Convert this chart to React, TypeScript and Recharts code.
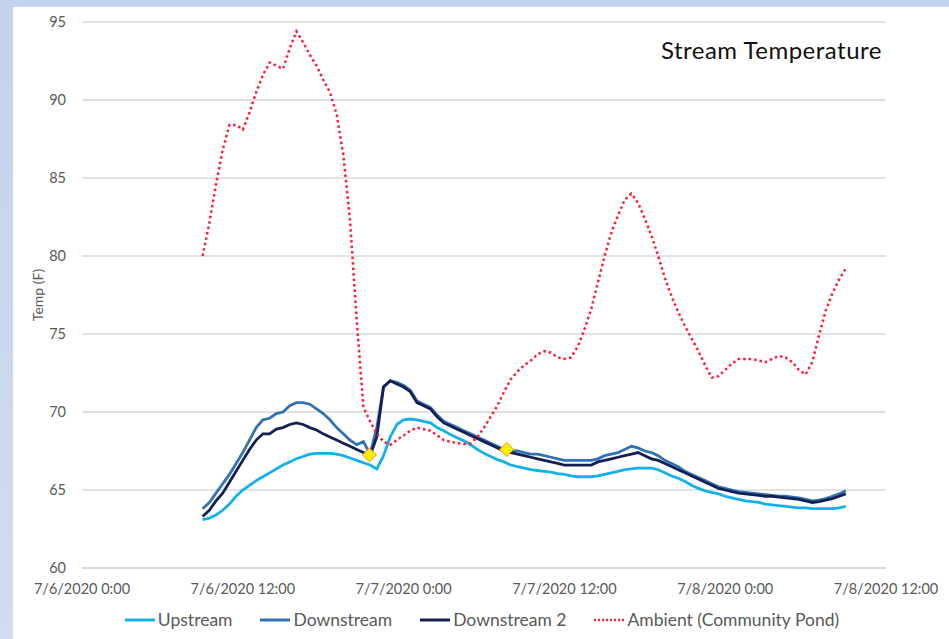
import React from "react";
import { ComposedChart, Line, Scatter, XAxis, YAxis, CartesianGrid, Legend } from "recharts";

// readings every 30 min, starting 7/6/2020 9:00 (hours since 7/6 0:00)
const START_HOUR = 9;
const STEP_HOURS = 0.5;

const UPSTREAM = [
  63.1, 63.2, 63.4, 63.7, 64.1, 64.6, 65.0, 65.3, 65.6, 65.85, 66.1, 66.35, 66.6, 66.8, 67.0, 67.15,
  67.3, 67.35, 67.35, 67.35, 67.3, 67.2, 67.05, 66.9, 66.75, 66.6, 66.35, 67.2, 68.4, 69.2, 69.5, 69.55,
  69.5, 69.4, 69.3, 69.0, 68.8, 68.55, 68.35, 68.15, 67.9, 67.6, 67.35, 67.15, 66.95, 66.8, 66.6, 66.5,
  66.4, 66.3, 66.25, 66.2, 66.15, 66.05, 66.0, 65.9, 65.85, 65.85, 65.85, 65.9, 66.0, 66.1, 66.2, 66.3,
  66.35, 66.4, 66.4, 66.4, 66.3, 66.1, 65.9, 65.75, 65.55, 65.3, 65.1, 64.95, 64.85, 64.75, 64.6, 64.5,
  64.4, 64.3, 64.25, 64.2, 64.1, 64.05, 64.0, 63.95, 63.9, 63.85, 63.85, 63.8, 63.8, 63.8, 63.8, 63.85,
  63.95,
];

const DOWNSTREAM = [
  63.8, 64.2, 64.8, 65.4, 66.0, 66.7, 67.4, 68.2, 69.0, 69.5, 69.6, 69.9, 70.0, 70.4, 70.6, 70.6,
  70.5, 70.2, 69.9, 69.5, 69.0, 68.6, 68.2, 67.9, 68.1, 67.3, 69.0, 71.6, 72.0, 71.9, 71.7, 71.4,
  70.7, 70.5, 70.3, 69.8, 69.4, 69.2, 69.0, 68.8, 68.6, 68.4, 68.2, 68.0, 67.8, 67.6, 67.5, 67.5,
  67.4, 67.3, 67.3, 67.2, 67.1, 67.0, 66.9, 66.9, 66.9, 66.9, 66.9, 67.0, 67.2, 67.3, 67.4, 67.6,
  67.8, 67.7, 67.5, 67.4, 67.2, 66.9, 66.7, 66.5, 66.2, 66.0, 65.8, 65.6, 65.4, 65.2, 65.1, 65.0,
  64.9, 64.85, 64.8, 64.75, 64.7, 64.65, 64.6, 64.6, 64.55, 64.5, 64.4, 64.3, 64.35, 64.45, 64.6, 64.75,
  64.95,
];

const DOWNSTREAM_2 = [
  63.3, 63.7, 64.3, 64.8, 65.5, 66.2, 66.9, 67.6, 68.2, 68.6, 68.6, 68.9, 69.0, 69.2, 69.3, 69.2,
  69.0, 68.85, 68.6, 68.4, 68.2, 68.0, 67.8, 67.6, 67.4, 67.2, 68.4, 71.6, 72.0, 71.8, 71.6, 71.3,
  70.6, 70.4, 70.2, 69.7, 69.3, 69.1, 68.9, 68.7, 68.5, 68.3, 68.1, 67.9, 67.7, 67.5, 67.4, 67.3,
  67.2, 67.1, 67.0, 66.9, 66.8, 66.7, 66.6, 66.6, 66.6, 66.6, 66.6, 66.8, 66.9, 67.0, 67.1, 67.2,
  67.3, 67.4, 67.2, 67.0, 66.9, 66.7, 66.5, 66.3, 66.1, 65.9, 65.7, 65.5, 65.3, 65.1, 65.0, 64.9,
  64.8, 64.75, 64.7, 64.65, 64.6, 64.6, 64.55, 64.5, 64.45, 64.4, 64.3, 64.2, 64.25, 64.35, 64.45, 64.6,
  64.75,
];

const AMBIENT = [
  80.0, 82.1, 84.6, 86.8, 88.4, 88.4, 88.1, 89.2, 90.5, 91.6, 92.4, 92.2, 92.0, 93.3, 94.4, 93.7,
  92.9, 92.2, 91.3, 90.5, 89.1, 86.5, 82.3, 75.9, 70.3, 69.4, 68.6, 68.1, 67.9, 68.2, 68.5, 68.8,
  69.0, 68.9, 68.8, 68.5, 68.2, 68.1, 68.0, 67.95, 68.0, 68.4, 69.0, 69.7, 70.4, 71.3, 72.1, 72.6,
  73.0, 73.3, 73.7, 73.9, 73.8, 73.5, 73.4, 73.5, 74.2, 75.3, 76.6, 78.3, 80.0, 81.5, 82.6, 83.6,
  84.0, 83.4, 82.4, 81.3, 80.0, 78.6, 77.4, 76.4, 75.5, 74.7, 73.9, 73.0, 72.2, 72.3, 72.7, 73.1,
  73.4, 73.4, 73.4, 73.3, 73.2, 73.4, 73.6, 73.5, 73.2, 72.7, 72.4, 73.2, 74.9, 76.5, 77.6, 78.5,
  79.2,
];

// highlighted readings (yellow diamonds)
const MARKER_HOURS = [21.45, 31.7];
const MARKER_TEMPS = [67.25, 67.6];

const X_TICKS = [0, 12, 24, 36, 48, 60];
const X_TICK_LABELS = ["7/6/2020 0:00", "7/6/2020 12:00", "7/7/2020 0:00", "7/7/2020 12:00", "7/8/2020 0:00", "7/8/2020 12:00"];
const Y_TICKS = [60, 65, 70, 75, 80, 85, 90, 95];

const SERIES = [
  { key: "upstream", name: "Upstream", color: "#13b0ee", dotted: false },
  { key: "downstream", name: "Downstream", color: "#2f72b8", dotted: false },
  { key: "downstream2", name: "Downstream 2", color: "#141f54", dotted: false },
  { key: "ambient", name: "Ambient (Community Pond)", color: "#fb1d3a", dotted: true },
];

const FONT = "Lato, 'Open Sans', sans-serif";

const data = UPSTREAM.map((u, i) => ({
  h: START_HOUR + i * STEP_HOURS,
  upstream: u,
  downstream: DOWNSTREAM[i],
  downstream2: DOWNSTREAM_2[i],
  ambient: AMBIENT[i],
}));

const markers = MARKER_HOURS.map((h, i) => ({ h, t: MARKER_TEMPS[i] }));

function Diamond(props: any) {
  const { cx, cy } = props;
  const r = 7;
  return (
    <path
      d={`M${cx},${cy - r}L${cx + r},${cy}L${cx},${cy + r}L${cx - r},${cy}Z`}
      fill="#ffee00"
      stroke="#e8951c"
      strokeWidth={1}
    />
  );
}

function LegendContent() {
  return (
    <div style={{ display: "flex", justifyContent: "center", alignItems: "center", gap: 28, fontFamily: FONT, fontSize: 17.5, color: "#595959", paddingLeft: 78 }}>
      {SERIES.map((s) => (
        <div key={s.key} style={{ display: "flex", alignItems: "center", gap: 3 }}>
          <svg width={30} height={10}>
            <line
              x1={0}
              x2={30}
              y1={5}
              y2={5}
              stroke={s.color}
              strokeWidth={s.dotted ? 2.5 : 3}
              strokeDasharray={s.dotted ? "2 2" : undefined}
            />
          </svg>
          <span>{s.name}</span>
        </div>
      ))}
    </div>
  );
}

export default function App() {
  return (
    <div
      style={{
        position: "absolute",
        left: 0,
        top: 0,
        width: 949,
        height: 639,
        background: "linear-gradient(180deg, #c3d2ed 0%, #d3dcef 100%)",
        overflow: "hidden",
      }}
    >
      <div style={{ position: "absolute", left: 13, top: 7, right: 0, bottom: 0, background: "#fff" }} />
      <div style={{ position: "absolute", left: 0, top: 0 }}>
        <ComposedChart width={949} height={639} data={data} margin={{ top: 22, right: 63, bottom: 6, left: 0 }}>
          <CartesianGrid vertical={false} stroke="#d9d9d9" strokeWidth={1.3} />
          <XAxis
            dataKey="h"
            type="number"
            domain={[0, 60]}
            ticks={X_TICKS}
            tickFormatter={(v) => X_TICK_LABELS[X_TICKS.indexOf(v)]}
            axisLine={{ stroke: "#d9d9d9", strokeWidth: 1.3 }}
            tickLine={false}
            tickMargin={10}
            height={41}
            interval={0}
            tick={{ fill: "#595959", fontSize: 14.5, fontFamily: FONT }}
          />
          <YAxis
            type="number"
            domain={[60, 95]}
            ticks={Y_TICKS}
            width={82}
            axisLine={false}
            tickLine={false}
            tickMargin={10}
            tick={{ fill: "#595959", fontSize: 14.5, fontFamily: FONT }}
            label={{
              value: "Temp (F)",
              angle: -90,
              position: "insideLeft",
              offset: 38,
              fill: "#595959",
              fontSize: 14,
              fontFamily: FONT,
              style: { textAnchor: "middle", fontSize: 14 },
            }}
          />
          <Legend verticalAlign="bottom" height={24} content={<LegendContent />} />
          {SERIES.map((s) => (
            <Line
              key={s.key}
              dataKey={s.key}
              name={s.name}
              type="linear"
              stroke={s.color}
              strokeWidth={s.dotted ? 2.5 : 2.8}
              strokeDasharray={s.dotted ? "2.5 3" : undefined}
              dot={false}
              activeDot={false}
              isAnimationActive={false}
            />
          ))}
          <Scatter data={markers} dataKey="t" shape={<Diamond />} legendType="none" isAnimationActive={false} />
        </ComposedChart>
      </div>
      <div
        style={{
          position: "absolute",
          right: 67,
          top: 35,
          fontFamily: FONT,
          fontSize: 24,
          letterSpacing: 0.5,
          color: "#111",
        }}
      >
        Stream Temperature
      </div>
    </div>
  );
}
